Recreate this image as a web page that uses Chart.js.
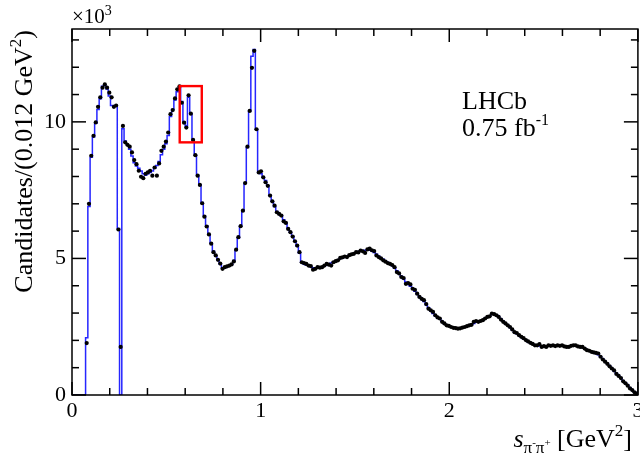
<!DOCTYPE html>
<html lang="en">
<head>
<meta charset="utf-8">
<title>LHCb s(pi-pi+) distribution</title>
<script src="https://cdn.jsdelivr.net/npm/chart.js@4.4.1/dist/chart.umd.min.js"></script>
<style>
  html, body { margin: 0; padding: 0; background: #fff; }
</style>
</head>
<body>
<canvas id="chart" width="640" height="461"></canvas>
<script>
// 250 bins of 0.012 GeV^2 from 0 to 3, counts in units of 10^3
const binWidth = 0.012;

const fitCounts = [
  0, 0, 0, 0, 0, 0, 2.1, 6.9, 8.7, 9.45,
  9.95, 10.45, 10.85, 11.3, 11.35, 11.2, 10.95, 10.6, 10.6, 10.6,
  6.1, 0, 9.75, 9.3, 9.15, 9.0, 8.75, 8.5, 8.38, 8.3,
  8.2, 8.1, 8.05, 8.1, 8.15, 8.2, 8.3, 8.4, 8.55, 8.8,
  9.0, 9.2, 9.5, 10.2, 10.45, 10.8, 11.1, 11.25, 10.75, 10.0,
  9.85, 10.9, 10.3, 9.34, 8.8, 8.05, 7.7, 7.05, 6.55, 6.2,
  5.88, 5.56, 5.26, 5.1, 4.95, 4.8, 4.66, 4.66, 4.7, 4.73,
  4.78, 4.92, 5.3, 5.75, 6.2, 6.75, 7.75, 9.06, 10.4, 12.4,
  12.65, 9.73, 8.15, 8.1, 7.97, 7.85, 7.66, 7.3, 7.08, 6.9,
  6.72, 6.63, 6.55, 6.42, 6.3, 6.1, 5.96, 5.8, 5.63, 5.45,
  5.2, 4.86, 4.8, 4.76, 4.74, 4.7, 4.66, 4.64, 4.65, 4.68,
  4.7, 4.72, 4.76, 4.79, 4.83, 4.88, 4.91, 4.95, 5.0, 5.02,
  5.05, 5.08, 5.12, 5.15, 5.18, 5.22, 5.25, 5.27, 5.29, 5.3,
  5.3, 5.3, 5.27, 5.22, 5.15, 5.08, 5.02, 4.97, 4.9, 4.85,
  4.8, 4.73, 4.65, 4.55, 4.45, 4.35, 4.25, 4.14, 4.05, 3.98,
  3.9, 3.8, 3.7, 3.6, 3.5, 3.42, 3.3, 3.19, 3.08, 2.98,
  2.9, 2.84, 2.78, 2.7, 2.62, 2.57, 2.52, 2.49, 2.47, 2.45,
  2.44, 2.45, 2.47, 2.49, 2.52, 2.55, 2.58, 2.62, 2.66, 2.69,
  2.72, 2.75, 2.8, 2.85, 2.9, 2.96, 2.97, 2.93, 2.86, 2.78,
  2.7, 2.62, 2.55, 2.47, 2.39, 2.31, 2.24, 2.18, 2.12, 2.06,
  2.0, 1.95, 1.9, 1.86, 1.83, 1.81, 1.79, 1.78, 1.78, 1.78,
  1.79, 1.8, 1.8, 1.8, 1.8, 1.8, 1.8, 1.79, 1.78, 1.78,
  1.79, 1.8, 1.8, 1.79, 1.77, 1.74, 1.7, 1.66, 1.62, 1.58,
  1.55, 1.52, 1.47, 1.4, 1.32, 1.24, 1.15, 1.06, 0.97, 0.88,
  0.79, 0.7, 0.61, 0.52, 0.44, 0.36, 0.27, 0.19, 0.11, 0.04
];

const dataCounts = [
  null, null, null, null, null, null, 1.9, 7.0, 8.76, 9.49,
  9.98, 10.55, 10.9, 11.25, 11.37, 11.25, 11.07, 10.9, 10.55, 10.6,
  6.06, 1.76, 9.85, 9.25, 9.16, 9.09, 8.88, 8.6, 8.45, 8.21,
  7.99, 7.94, 8.1, 8.15, 8.21, 8.03, 8.33, 8.03, 8.48, 8.94,
  9.09, 9.28, 9.61, 10.28, 10.43, 10.86, 11.19, 11.3, 10.7, 9.97,
  9.79, 10.97, 10.3, 9.34, 8.78, 8.03, 7.69, 7.02, 6.53, 6.17,
  5.88, 5.54, 5.23, 5.11, 4.95, 4.81, 4.62, 4.68, 4.71, 4.74,
  4.78, 4.89, 5.32, 5.78, 6.18, 6.75, 7.76, 9.09, 10.4, 11.98,
  12.6, 9.73, 8.15, 8.19, 7.97, 7.79, 7.66, 7.3, 7.09, 6.93,
  6.69, 6.63, 6.57, 6.36, 6.3, 6.08, 5.96, 5.8, 5.63, 5.47,
  5.23, 4.86, 4.83, 4.8, 4.74, 4.72, 4.59, 4.62, 4.68, 4.66,
  4.68, 4.74, 4.8, 4.77, 4.74, 4.86, 4.9, 4.93, 5.02, 5.04,
  5.07, 5.05, 5.12, 5.15, 5.17, 5.23, 5.22, 5.29, 5.26, 5.2,
  5.33, 5.36, 5.3, 5.27, 5.11, 5.05, 5.0, 4.93, 4.88, 4.83,
  4.8, 4.76, 4.68, 4.5, 4.45, 4.32, 4.28, 4.07, 4.1, 4.05,
  3.89, 3.85, 3.71, 3.59, 3.52, 3.47, 3.33, 3.16, 3.1, 3.04,
  2.92, 2.84, 2.8, 2.68, 2.62, 2.55, 2.53, 2.49, 2.46, 2.45,
  2.43, 2.44, 2.47, 2.49, 2.52, 2.55, 2.57, 2.68, 2.71, 2.68,
  2.71, 2.74, 2.8, 2.86, 2.88, 2.98, 2.96, 2.92, 2.86, 2.76,
  2.68, 2.62, 2.55, 2.49, 2.4, 2.3, 2.27, 2.19, 2.13, 2.08,
  2.01, 1.96, 1.91, 1.87, 1.82, 1.82, 1.86, 1.76, 1.79, 1.76,
  1.82, 1.8, 1.82, 1.79, 1.82, 1.8, 1.82, 1.78, 1.76, 1.76,
  1.8, 1.82, 1.82, 1.78, 1.76, 1.76, 1.7, 1.64, 1.62, 1.58,
  1.56, 1.54, 1.52, 1.4, 1.3, 1.22, 1.14, 1.05, 0.97, 0.9,
  0.77, 0.7, 0.62, 0.5, 0.43, 0.34, 0.24, 0.18, 0.1, 0.05
];

const xTicks = [0, 1, 2, 3];
const yTicks = [0, 5, 10];

// highlighted region around the rho-omega interference
const boxRange = { x0: 0.571, x1: 0.688, y0: 9.25, y1: 11.31 };

const serif = '"Liberation Serif", "Times New Roman", serif';

// histogram edges for the fit (left edge of each bin, plus the last right edge)
const fitPoints = fitCounts.map((v, i) => ({ x: i * binWidth, y: v }));
fitPoints.push({ x: fitCounts.length * binWidth, y: fitCounts[fitCounts.length - 1] });

const dataPoints = [];
dataCounts.forEach((v, i) => {
  if (v !== null) dataPoints.push({ x: (i + 0.5) * binWidth, y: v });
});

function drawRuns(ctx, runs, x, y, align) {
  let w = 0;
  runs.forEach(r => { ctx.font = r.font; r.w = ctx.measureText(r.t).width; w += r.w; });
  let cx = align === 'right' ? x - w : x;
  runs.forEach(r => {
    ctx.font = r.font;
    ctx.fillText(r.t, cx, y + (r.dy || 0));
    cx += r.w;
  });
}

const framePlugin = {
  id: 'frame',
  afterDraw(chart) {
    const { ctx, chartArea: a, scales: { x, y } } = chart;
    ctx.save();
    ctx.strokeStyle = '#000';
    ctx.fillStyle = '#000';
    ctx.lineWidth = 1.5;

    const seg = (x1, y1, x2, y2) => {
      ctx.beginPath(); ctx.moveTo(x1, y1); ctx.lineTo(x2, y2); ctx.stroke();
    };

    ctx.strokeRect(a.left, a.top, a.right - a.left, a.bottom - a.top);

    // x ticks: major 1, minor 0.2
    for (let i = 0; i <= 15; i++) {
      const px = x.getPixelForValue(i * 0.2);
      const len = i % 5 === 0 ? 13 : 7;
      seg(px, a.bottom, px, a.bottom - len);
      seg(px, a.top, px, a.top + len);
    }
    // y ticks: major 5, minor 1
    for (let v = 0; v <= 13; v++) {
      const py = y.getPixelForValue(v);
      const len = v % 5 === 0 ? 14 : 7;
      seg(a.left, py, a.left + len, py);
      seg(a.right, py, a.right - len, py);
    }

    // tick labels
    ctx.font = '22px ' + serif;
    ctx.textAlign = 'center';
    ctx.textBaseline = 'top';
    xTicks.forEach(v => ctx.fillText(String(v), x.getPixelForValue(v), a.bottom + 5));
    ctx.textAlign = 'right';
    ctx.textBaseline = 'middle';
    yTicks.forEach(v => ctx.fillText(String(v), a.left - 6, y.getPixelForValue(v)));

    ctx.textAlign = 'left';
    ctx.textBaseline = 'alphabetic';

    // exponent label
    drawRuns(ctx, [
      { t: '\u00d710', font: '21px ' + serif },
      { t: '3', font: '14px ' + serif, dy: -8 }
    ], a.left, 23, 'left');

    // x title
    drawRuns(ctx, [
      { t: 's', font: 'italic 26px ' + serif },
      { t: '\u03c0', font: '17px ' + serif, dy: 6 },
      { t: '-', font: '11px ' + serif, dy: -1 },
      { t: '\u03c0', font: '17px ' + serif, dy: 6 },
      { t: '+', font: '11px ' + serif, dy: -1 },
      { t: ' [GeV', font: '26px ' + serif },
      { t: '2', font: '17px ' + serif, dy: -11 },
      { t: ']', font: '26px ' + serif }
    ], 632, 447, 'right');

    // y title, rotated, ending at the top of the frame
    ctx.save();
    ctx.translate(32, 30);
    ctx.rotate(-Math.PI / 2);
    drawRuns(ctx, [
      { t: 'Candidates/(0.012 GeV', font: '26px ' + serif },
      { t: '2', font: '17px ' + serif, dy: -11 },
      { t: ')', font: '26px ' + serif }
    ], 0, 0, 'right');
    ctx.restore();

    // experiment label
    ctx.font = '26px ' + serif;
    ctx.fillText('LHCb', 462, 109);
    drawRuns(ctx, [
      { t: '0.75 fb', font: '26px ' + serif },
      { t: '-1', font: '16px ' + serif, dy: -11 }
    ], 462, 136, 'left');

    // highlight box
    ctx.strokeStyle = '#ff0000';
    ctx.lineWidth = 2.4;
    const bx0 = x.getPixelForValue(boxRange.x0), bx1 = x.getPixelForValue(boxRange.x1);
    const by0 = y.getPixelForValue(boxRange.y1), by1 = y.getPixelForValue(boxRange.y0);
    ctx.strokeRect(bx0, by0, bx1 - bx0, by1 - by0);

    ctx.restore();
  }
};

new Chart(document.getElementById('chart').getContext('2d'), {
  data: {
    datasets: [
      {
        type: 'scatter',
        label: 'Data',
        data: dataPoints,
        pointRadius: 2.1,
        pointBackgroundColor: '#000',
        pointBorderWidth: 0,
        pointHoverRadius: 0
      },
      {
        type: 'line',
        label: 'Fit',
        data: fitPoints,
        stepped: true,
        borderColor: '#2626ff',
        borderWidth: 1.5,
        pointRadius: 0,
        fill: false,
        tension: 0
      }
    ]
  },
  options: {
    responsive: false,
    animation: false,
    devicePixelRatio: 1,
    layout: { padding: { left: 72, right: 1, top: 29, bottom: 66 } },
    plugins: { legend: { display: false }, tooltip: { enabled: false } },
    scales: {
      x: { type: 'linear', min: 0, max: 3, display: false },
      y: { type: 'linear', min: 0, max: 13.4, display: false }
    }
  },
  plugins: [framePlugin]
});
</script>
</body>
</html>
